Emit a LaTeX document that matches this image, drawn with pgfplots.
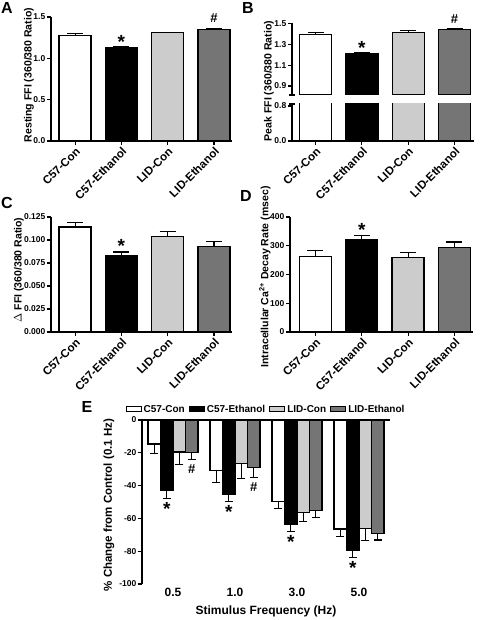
\documentclass[border=0pt]{standalone}
\usepackage{fontspec}
\setmainfont{Liberation Sans}
\usepackage{pgfplots}
\pgfplotsset{compat=1.18}

\definecolor{lidcon}{gray}{0.80}
\definecolor{lideth}{gray}{0.46}

\pgfplotsset{
  panel/.style={
    scale only axis, anchor=south west,
    axis lines=left, axis line style={-, line width=1.1pt},
    tick align=outside, major tick length=4pt,
    tick style={line width=1.1pt, black},
    xtick={0,1,2,3},
    xticklabels={C57-Con,C57-Ethanol,LID-Con,LID-Ethanol},
    xticklabel style={rotate=45, anchor=north east, font=\fontsize{11.5}{12}\selectfont\bfseries, inner sep=1pt},
    yticklabel style={font=\fontsize{8.5}{10}\selectfont\bfseries, inner sep=1.5pt},
    /pgf/number format/assume math mode=true,
    clip mode=individual,
  },
  barbase/.style={ybar, bar width=32pt, bar shift=0pt, draw=black, line width=1.3pt, fill=#1},
  mybar/.style={barbase=#1,
    error bars/.cd, y dir=plus, y explicit,
    error bar style={line width=1.1pt, black},
    error mark=|, error mark options={line width=1.1pt, black, mark size=8pt}},
  ebar/.style={fill=#1, draw=black, line width=1.2pt,
    error bars/.cd, y dir=minus, y explicit,
    error bar style={line width=1.1pt, black},
    error mark=|, error mark options={line width=1.1pt, black, mark size=4pt}},
}
\newcommand{\lab}{\fontsize{10.5}{12}\selectfont\bfseries}
\newcommand{\sigstar}{\fontsize{19}{19}\selectfont\bfseries *}
\newcommand{\sighash}{\fontsize{13}{13}\selectfont\bfseries \#}

\begin{document}
\begin{tikzpicture}[x=1pt,y=1pt]
\path[use as bounding box] (0,0) rectangle (480,620);

% panel letters
\node[font=\fontsize{16}{16}\selectfont\bfseries] at (7,612) {A};
\node[font=\fontsize{16}{16}\selectfont\bfseries] at (248,612) {B};
\node[font=\fontsize{16}{16}\selectfont\bfseries] at (7,417) {C};
\node[font=\fontsize{16}{16}\selectfont\bfseries] at (246,424) {D};
\node[font=\fontsize{16}{16}\selectfont\bfseries] at (87,213) {E};

% y labels
\node[rotate=90, font=\lab] at (29,545) {Resting FFI (360/380 Ratio)};
\node[rotate=90, font=\lab] at (269,539) {Peak FFI (360/380 Ratio)};
\node[rotate=90, font=\lab] at (19,350) {$\Delta$ FFI (360/380 Ratio)};
\node[rotate=90, font=\lab] at (265,343) {Intracellular Ca\textsuperscript{2+} Decay Rate (msec)};
\node[rotate=90, font=\fontsize{11.5}{13}\selectfont\bfseries] at (109,115) {\% Change from Control (0.1 Hz)};
\node[font=\fontsize{12}{13}\selectfont\bfseries] at (266,9) {Stimulus Frequency (Hz)};

% ---------------- A ----------------
\begin{axis}[panel, at={(51pt,479pt)}, width=181pt, height=124pt,
  xmin=-0.52, xmax=3.39, ymin=0, ymax=1.5, ytick={0,0.5,1,1.5},
  yticklabel style={/pgf/number format/.cd, fixed, fixed zerofill, precision=1}]
\addplot[mybar=white] coordinates {(0,1.28) +- (0,0.02)};
\addplot[mybar=black] coordinates {(1,1.13) +- (0,0.01)};
\addplot[mybar=lidcon] coordinates {(2,1.31) +- (0,0.006)};
\addplot[mybar=lideth] coordinates {(3,1.35) +- (0,0.015)};
\node[anchor=south, inner sep=0pt, yshift=-2pt] at (axis cs:1,1.14) {\sigstar};
\node[anchor=south, inner sep=0pt, yshift=5pt] at (axis cs:3,1.365) {\sighash};
\end{axis}

% ---------------- B (broken axis) ----------------
\begin{axis}[panel, at={(292pt,525pt)}, width=182pt, height=71.7pt,
  xmin=-0.51, xmax=3.42, ymin=0.814, ymax=1.5, ytick={0.9,1.1,1.3,1.5},
  xtick=\empty, x axis line style={draw=none},
  yticklabel style={/pgf/number format/.cd, fixed, fixed zerofill, precision=1}]
\addplot[mybar=white] coordinates {(0,1.39) +- (0,0.02)};
\addplot[mybar=black] coordinates {(1,1.21) +- (0,0.012)};
\addplot[mybar=lidcon] coordinates {(2,1.41) +- (0,0.02)};
\addplot[mybar=lideth] coordinates {(3,1.44) +- (0,0.012)};
\node[anchor=south, inner sep=0pt, yshift=-2pt] at (axis cs:1,1.222) {\sigstar};
\node[anchor=south, inner sep=0pt, yshift=5pt] at (axis cs:3,1.452) {\sighash};
\draw[line width=1.1pt] ([xshift=-3pt]rel axis cs:0,0) -- ([xshift=3pt]rel axis cs:0,0);
\end{axis}
\begin{axis}[panel, at={(292pt,479pt)}, width=182pt, height=37pt,
  xmin=-0.51, xmax=3.42, ymin=0, ymax=0.846, ytick={0,0.8},
  yticklabel style={/pgf/number format/.cd, fixed, fixed zerofill, precision=1}]
\addplot[barbase=white] coordinates {(0,1.39)};
\addplot[barbase=black] coordinates {(1,1.21)};
\addplot[barbase=lidcon] coordinates {(2,1.41)};
\addplot[barbase=lideth] coordinates {(3,1.44)};
\draw[line width=1.1pt] ([xshift=-3pt]rel axis cs:0,1) -- ([xshift=3pt]rel axis cs:0,1);
\end{axis}

% ---------------- C ----------------
\begin{axis}[panel, at={(51pt,288pt)}, width=181pt, height=115pt,
  xmin=-0.52, xmax=3.39, ymin=0, ymax=0.125, ytick={0,0.025,0.05,0.075,0.1,0.125},
  yticklabel style={/pgf/number format/.cd, fixed, fixed zerofill, precision=3}]
\addplot[mybar=white] coordinates {(0,0.114) +- (0,0.005)};
\addplot[mybar=black] coordinates {(1,0.083) +- (0,0.004)};
\addplot[mybar=lidcon] coordinates {(2,0.104) +- (0,0.005)};
\addplot[mybar=lideth] coordinates {(3,0.093) +- (0,0.005)};
\node[anchor=south, inner sep=0pt, yshift=-2pt] at (axis cs:1,0.088) {\sigstar};
\end{axis}

% ---------------- D ----------------
\begin{axis}[panel, at={(290pt,288pt)}, width=183pt, height=115pt,
  xmin=-0.55, xmax=3.40, ymin=0, ymax=400, ytick={0,100,200,300,400}]
\addplot[mybar=white] coordinates {(0,263) +- (0,20)};
\addplot[mybar=black] coordinates {(1,322) +- (0,15)};
\addplot[mybar=lidcon] coordinates {(2,258) +- (0,18)};
\addplot[mybar=lideth] coordinates {(3,293) +- (0,20)};
\node[anchor=south, inner sep=0pt, yshift=-2pt] at (axis cs:1,338) {\sigstar};
\end{axis}

% ---------------- E ----------------
\begin{axis}[scale only axis, anchor=south west, at={(142pt,36pt)}, width=248pt, height=164pt,
  xmin=-0.5, xmax=3.5, ymin=-100, ymax=0,
  axis y line=left, axis x line=bottom, axis line style={-, line width=1.1pt},
  x axis line style={draw=none},
  tick align=outside, major tick length=4pt, tick style={line width=1.1pt, black},
  major x tick style={draw=none},
  ytick={-100,-80,-60,-40,-20,0},
  xtick={0,1,2,3}, xticklabels={0.5,1.0,3.0,5.0},
  xticklabel style={font=\fontsize{12}{12}\selectfont\bfseries, yshift=3pt},
  yticklabel style={font=\fontsize{8.5}{10}\selectfont\bfseries, inner sep=1.5pt},
  /pgf/number format/assume math mode=true,
  ybar=0pt, bar width=12.5pt,
  clip mode=individual,
  legend columns=4,
  legend style={at={(0.5,1)}, anchor=south, yshift=4pt, draw=none, fill=none,
    font=\fontsize{10}{12}\selectfont\bfseries, inner sep=0pt,
    /tikz/every even column/.append style={column sep=2pt}},
  legend image code/.code={\draw[#1, line width=1.1pt] (0pt,-2.5pt) rectangle (15pt,2.5pt);},
]
\addplot[ebar=white] coordinates {(0,-14.6) +- (0,5.7) (1,-31) +- (0,7) (2,-49.5) +- (0,4.7) (3,-66.5) +- (0,4.5)};
\addplot[ebar=black] coordinates {(0,-43.2) +- (0,4.5) (1,-45.6) +- (0,4.1) (2,-63.9) +- (0,4.1) (3,-79.3) +- (0,4.5)};
\addplot[ebar=lidcon] coordinates {(0,-19.5) +- (0,7.9) (1,-26.4) +- (0,9.5) (2,-56.2) +- (0,5.7) (3,-66.1) +- (0,7.3)};
\addplot[ebar=lideth] coordinates {(0,-19.9) +- (0,4) (1,-29.2) +- (0,5.7) (2,-55.2) +- (0,4) (3,-69.2) +- (0,4)};
\legend{C57-Con,C57-Ethanol,LID-Con,LID-Ethanol}
\draw[line width=1.1pt] (rel axis cs:0,1) -- (rel axis cs:1,1);
\node[anchor=north, inner sep=0pt, xshift=-6.25pt, yshift=-4pt] at (axis cs:0,-47.7) {\sigstar};
\node[anchor=north, inner sep=0pt, xshift=-6.25pt, yshift=-4pt] at (axis cs:1,-49.7) {\sigstar};
\node[anchor=north, inner sep=0pt, xshift=-6.25pt, yshift=-4pt] at (axis cs:2,-68) {\sigstar};
\node[anchor=north, inner sep=0pt, xshift=-6.25pt, yshift=-4pt] at (axis cs:3,-83.8) {\sigstar};
\node[anchor=north, inner sep=0pt, xshift=18.75pt, yshift=-5pt] at (axis cs:0,-23.9) {\sighash};
\node[anchor=north, inner sep=0pt, xshift=18.75pt, yshift=-5pt] at (axis cs:1,-34.9) {\sighash};
\end{axis}
\end{tikzpicture}
\end{document}
